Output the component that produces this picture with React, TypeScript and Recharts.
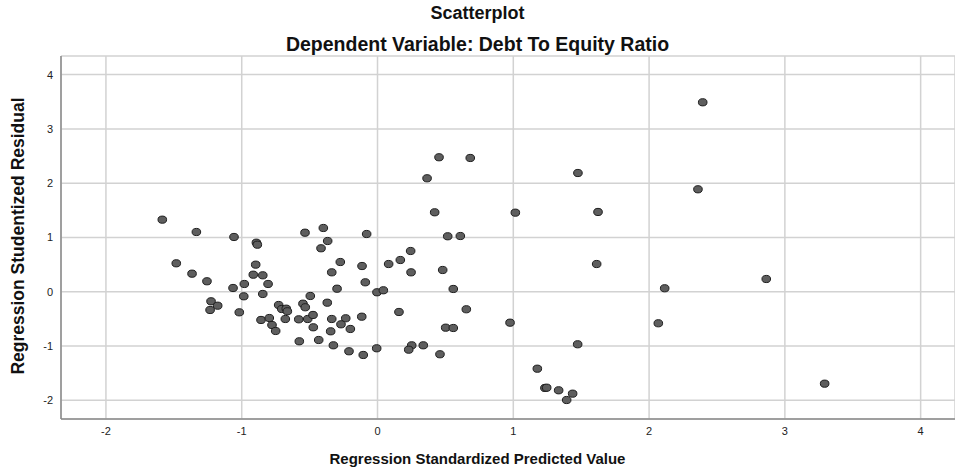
import React from "react";
import { ScatterChart, Scatter, XAxis, YAxis, CartesianGrid } from "recharts";

const chartTitle = "Scatterplot";
const chartSubtitle = "Dependent Variable: Debt To Equity Ratio";
const xAxisTitle = "Regression Standardized Predicted Value";
const yAxisTitle = "Regression Studentized Residual";

const xTicks = [-2, -1, 0, 1, 2, 3, 4];
const yTicks = [-2, -1, 0, 1, 2, 3, 4];

const predicted = [
  -1.585, -1.334, -1.057, -0.892, -0.885, -1.482, -1.366, -1.256, -0.897, -0.915,
  -0.845, -0.981, -0.806, -1.064, -0.985, -0.845, -1.226, -1.177, -1.233, -1.018,
  -0.728, -0.858, -0.797, -0.777, -0.75, 0.421, -0.534, -0.399, -0.08, 0.517,
  -0.367, -0.416, 0.244, -0.274, -0.114, 0.082, 0.168, 0.247, 0.48, -0.337,
  -0.09, -0.298, -0.495, -0.004, 0.043, -0.37, -0.705, -0.672, -0.664, -0.549,
  -0.532, 0.158, -0.679, -0.58, -0.514, -0.475, -0.337, -0.234, -0.116, -0.269,
  -0.473, -0.2, -0.345, 0.502, -0.576, -0.433, -0.325, -0.21, -0.105, -0.006,
  0.252, 0.23, 0.337, 0.46, 0.453, 0.683, 0.365, 1.015, 0.61, 0.558,
  0.654, 0.558, 0.976, 1.614, 1.474, 1.177, 1.233, 1.246, 1.334, 1.437,
  1.393, 2.395, 1.476, 2.36, 1.624, 2.115, 2.863, 2.068, 3.293,
];

const residual = [
  1.327, 1.1, 1.008, 0.903, 0.866, 0.523, 0.332, 0.192, 0.498, 0.313,
  0.302, 0.142, 0.142, 0.068, -0.085, -0.042, -0.177, -0.258, -0.337, -0.38,
  -0.245, -0.521, -0.485, -0.614, -0.724, 1.463, 1.087, 1.174, 1.063, 1.021,
  0.934, 0.8, 0.75, 0.547, 0.473, 0.51, 0.584, 0.357, 0.4, 0.357,
  0.173, 0.055, -0.079, -0.011, 0.026, -0.203, -0.319, -0.313, -0.361, -0.221,
  -0.287, -0.374, -0.503, -0.509, -0.503, -0.429, -0.503, -0.49, -0.461, -0.601,
  -0.656, -0.687, -0.73, -0.663, -0.914, -0.89, -0.988, -1.098, -1.166, -1.043,
  -0.988, -1.069, -0.988, -1.153, 2.477, 2.464, 2.09, 1.456, 1.026, 0.05,
  -0.324, -0.669, -0.571, 0.51, -0.969, -1.419, -1.774, -1.769, -1.817, -1.879,
  -1.996, 3.49, 2.187, 1.887, 1.469, 0.063, 0.234, -0.582, -1.695,
];

const points = predicted.map((x, i) => ({ x, y: residual[i] }));

const FONT = "'Liberation Sans', Arial, sans-serif";

const Dot = (props: any) => {
  const { cx, cy } = props;
  if (cx == null || cy == null) return null;
  return (
    <ellipse cx={cx} cy={cy} rx={4.3} ry={3.6} fill="#5e5e5e" stroke="#1e1e1e" strokeWidth={1} />
  );
};

export default function App() {
  return (
    <div style={{ position: "absolute", left: 0, top: 0, width: 955, height: 470, background: "#fff", fontFamily: FONT }}>
      <div style={{ position: "absolute", left: 0, width: 955, top: 13, transform: "translateY(-50%)", textAlign: "center", fontWeight: "bold", fontSize: 18, color: "#111" }}>
        {chartTitle}
      </div>
      <div style={{ position: "absolute", left: 0, width: 955, top: 44, transform: "translateY(-50%)", textAlign: "center", fontWeight: "bold", fontSize: 19.5, color: "#111" }}>
        {chartSubtitle}
      </div>
      <ScatterChart width={955} height={470} margin={{ top: 56, right: 0, bottom: 31, left: 0 }}>
        <CartesianGrid stroke="#d2d2d2" strokeWidth={1.5} />
        <XAxis
          type="number"
          dataKey="x"
          domain={[-2.331, 4.253]}
          ticks={xTicks}
          allowDataOverflow
          height={20}
          axisLine={{ stroke: "#8a8a8a", strokeWidth: 1.5 }}
          tickLine={false}
          tick={{ fontSize: 11, fill: "#222", fontFamily: FONT }}
        />
        <YAxis
          type="number"
          dataKey="y"
          domain={[-2.346, 4.343]}
          ticks={yTicks}
          allowDataOverflow
          width={61}
          axisLine={{ stroke: "#8a8a8a", strokeWidth: 1.5 }}
          tickLine={false}
          tick={{ fontSize: 11, fill: "#222", fontFamily: FONT }}
        />
        <Scatter data={points} shape={<Dot />} isAnimationActive={false} />
      </ScatterChart>
      <div style={{ position: "absolute", left: 0, width: 955, top: 458, transform: "translateY(-50%)", textAlign: "center", fontWeight: "bold", fontSize: 15, color: "#111" }}>
        {xAxisTitle}
      </div>
      <div
        style={{
          position: "absolute",
          left: 18,
          top: 236,
          transform: "translate(-50%, -50%) rotate(-90deg)",
          whiteSpace: "nowrap",
          fontWeight: "bold",
          fontSize: 17.5,
          color: "#111",
        }}
      >
        {yAxisTitle}
      </div>
    </div>
  );
}
